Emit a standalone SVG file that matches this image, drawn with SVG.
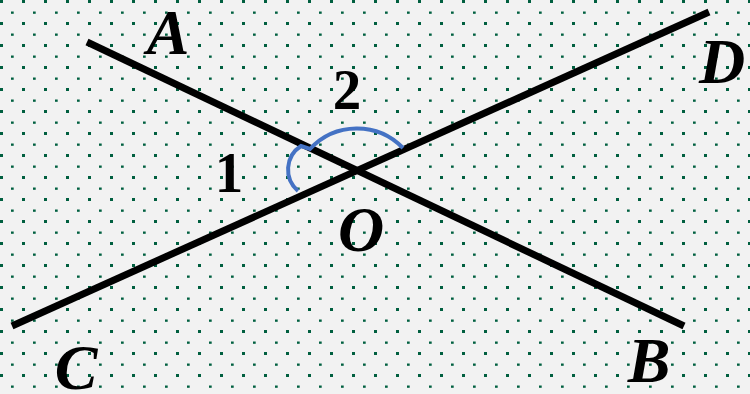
<svg xmlns="http://www.w3.org/2000/svg" width="750" height="394" viewBox="0 0 750 394">
  <defs>
    <pattern id="dots" x="0" y="0" width="22" height="22" patternUnits="userSpaceOnUse">
      <rect x="0" y="0" width="3" height="3" fill="#005f3f"/>
      <rect x="11" y="11.5" width="2.7" height="2.3" fill="#005f3f"/>
    </pattern>
    <style>
      .ln { stroke: #000; stroke-width: 7; fill: none; }
      .arc { stroke: #4472c4; stroke-width: 4; fill: none; }
      .lbl { font-family: "Liberation Serif", "Times New Roman", serif; font-weight: bold; font-style: italic; font-size: 64px; fill: #000; text-anchor: middle; }
      .num { font-family: "Liberation Serif", "Times New Roman", serif; font-weight: bold; font-size: 57px; fill: #000; text-anchor: middle; }
    </style>
  </defs>
  <rect width="750" height="394" fill="#f2f2f2"/>
  <rect width="750" height="394" fill="url(#dots)"/>
  <g id="lines">
    <line id="AB" class="ln" x1="87" y1="42" x2="684" y2="326"/>
    <line id="CD" class="ln" x1="12" y1="326" x2="709" y2="12"/>
  </g>
  <g id="angles">
    <path class="arc" d="M 298 191 A 28 28 0 0 1 301 146 L 310 149 A 64 64 0 0 1 403 148"/>
  </g>
  <g id="labels">
    <text class="lbl" x="168" y="54">A</text>
    <text class="lbl" x="722" y="83">D</text>
    <text class="lbl" x="76" y="389">C</text>
    <text class="lbl" x="649" y="382">B</text>
    <text class="lbl" x="361" y="251">O</text>
    <text class="num" x="229" y="192">1</text>
    <text class="num" x="347" y="109">2</text>
  </g>
</svg>
